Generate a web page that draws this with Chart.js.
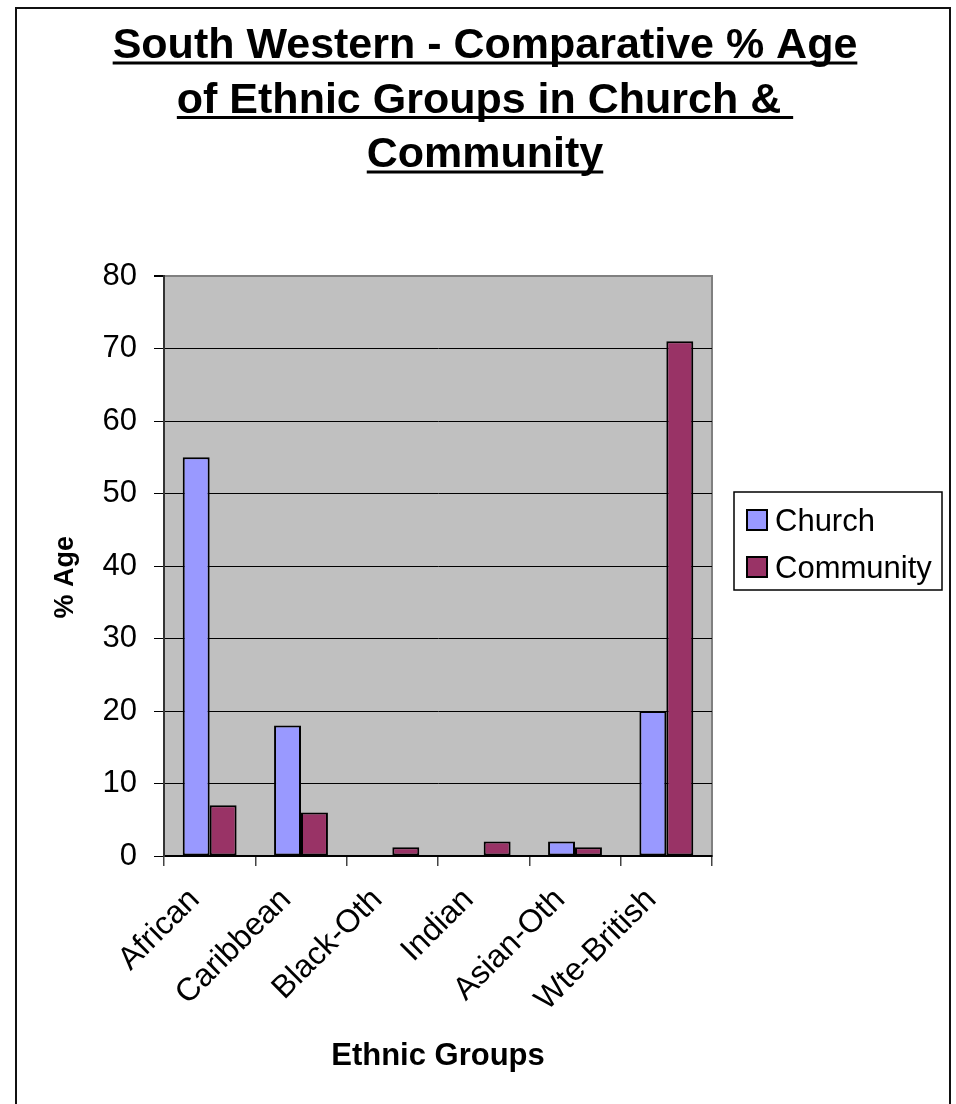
<!DOCTYPE html>
<html>
<head>
<meta charset="utf-8">
<script src="https://cdn.jsdelivr.net/npm/chart.js"></script>
<style>
    body { margin: 0; background: #fff; }
    #wrap { position: relative; width: 956px; height: 1104px; }
</style>
</head>
<body>
<div id="wrap"><canvas id="chart" width="956" height="1104"></canvas></div>
<script>
const FONT = "'Liberation Sans', Arial, sans-serif";

const titleLines = ["South Western - Comparative % Age", "of Ethnic Groups in Church & ", "Community"];
const categories = ["African", "Caribbean", "Black-Oth", "Indian", "Asian-Oth", "Wte-British"];
const churchValues = [55, 18, 0, 0, 2, 20];
const communityValues = [7, 6, 1.2, 2, 1.2, 71];
const yTicks = [0, 10, 20, 30, 40, 50, 60, 70, 80];

// outer frame, plot background and the underlined title
const framePlugin = {
    id: 'frame',
    beforeDraw(chart) {
        const ctx = chart.ctx;
        const a = chart.chartArea;
        ctx.save();
        ctx.fillStyle = '#fff';
        ctx.fillRect(0, 0, chart.width, chart.height);
        ctx.strokeStyle = '#111';
        ctx.lineWidth = 2;
        ctx.strokeRect(16, 8, 934, 1110);
        ctx.fillStyle = '#C0C0C0';
        ctx.fillRect(a.left, a.top, a.right - a.left, a.bottom - a.top);
        ctx.strokeStyle = '#808080';
        ctx.lineWidth = 2;
        ctx.strokeRect(a.left, a.top, a.right - a.left, a.bottom - a.top);

        ctx.fillStyle = '#000';
        ctx.strokeStyle = '#000';
        ctx.font = 'bold 43px ' + FONT;
        ctx.textAlign = 'center';
        ctx.textBaseline = 'alphabetic';
        const cx = 485;
        titleLines.forEach((line, i) => {
            const y = 58 + i * 54.5;
            ctx.fillText(line, cx, y);
            const w = ctx.measureText(line).width;
            ctx.lineWidth = 3;
            ctx.beginPath();
            ctx.moveTo(cx - w / 2, y + 5);
            ctx.lineTo(cx + w / 2, y + 5);
            ctx.stroke();
        });
        ctx.restore();
    },
    afterDraw(chart) {
        // legend box at the right of the plot
        const ctx = chart.ctx;
        ctx.save();
        ctx.fillStyle = '#fff';
        ctx.fillRect(734, 492, 208, 98);
        ctx.strokeStyle = '#000';
        ctx.lineWidth = 1.5;
        ctx.strokeRect(734, 492, 208, 98);
        ctx.font = '31px ' + FONT;
        ctx.textAlign = 'left';
        ctx.textBaseline = 'alphabetic';
        chart.data.datasets.forEach((ds, i) => {
            const y = 510 + i * 47;
            ctx.fillStyle = ds.backgroundColor;
            ctx.fillRect(747, y, 20, 20);
            ctx.lineWidth = 2;
            ctx.strokeRect(747, y, 20, 20);
            ctx.fillStyle = '#000';
            ctx.fillText(ds.label, 775, y + 21);
        });
        ctx.restore();
    }
};

new Chart(document.getElementById('chart'), {
    type: 'bar',
    data: {
        labels: categories,
        datasets: [
            {
                label: 'Church',
                data: churchValues,
                backgroundColor: '#9999FF',
                borderColor: '#000',
                borderWidth: 2,
                borderSkipped: false,
                categoryPercentage: 0.59,
                barPercentage: 1.0
            },
            {
                label: 'Community',
                data: communityValues,
                backgroundColor: '#993366',
                borderColor: '#000',
                borderWidth: 2,
                borderSkipped: false,
                categoryPercentage: 0.59,
                barPercentage: 1.0
            }
        ]
    },
    options: {
        responsive: false,
        animation: false,
        layout: { padding: { left: 16, top: 276, right: 244, bottom: 0 } },
        plugins: {
            legend: { display: false },
            title: { display: false },
            tooltip: { enabled: false }
        },
        scales: {
            x: {
                afterFit: (scale) => { scale.height = 248; },
                grid: {
                    display: true,
                    drawOnChartArea: false,
                    offset: true,
                    tickLength: 10,
                    color: '#444',
                    lineWidth: 1.5
                },
                border: { display: true, color: '#000', width: 2 },
                ticks: {
                    autoSkip: false,
                    minRotation: 45,
                    maxRotation: 45,
                    padding: 15,
                    labelOffset: -15,
                    color: '#000',
                    font: { family: FONT, size: 32 }
                },
                title: {
                    display: true,
                    text: 'Ethnic Groups',
                    color: '#000',
                    font: { family: FONT, size: 31, weight: 'bold' },
                    padding: { top: 0, bottom: 29 }
                }
            },
            y: {
                min: 0,
                max: 80,
                afterFit: (scale) => { scale.width = 148; },
                afterBuildTicks: (scale) => { scale.ticks = yTicks.map(v => ({ value: v })); },
                grid: {
                    color: (c) => (c.tick && c.tick.value === 80 ? '#808080' : '#000'),
                    lineWidth: (c) => (c.tick && c.tick.value === 80 ? 2 : 1),
                    tickColor: '#000',
                    tickLength: 10
                },
                border: { display: true, color: '#333', width: 2 },
                ticks: {
                    padding: 17,
                    color: '#000',
                    font: { family: FONT, size: 31 }
                },
                title: {
                    display: true,
                    text: '% Age   ',
                    color: '#000',
                    font: { family: FONT, size: 27, weight: 'bold' },
                    padding: { top: 33, bottom: 0 }
                }
            }
        }
    },
    plugins: [framePlugin]
});
</script>
</body>
</html>
